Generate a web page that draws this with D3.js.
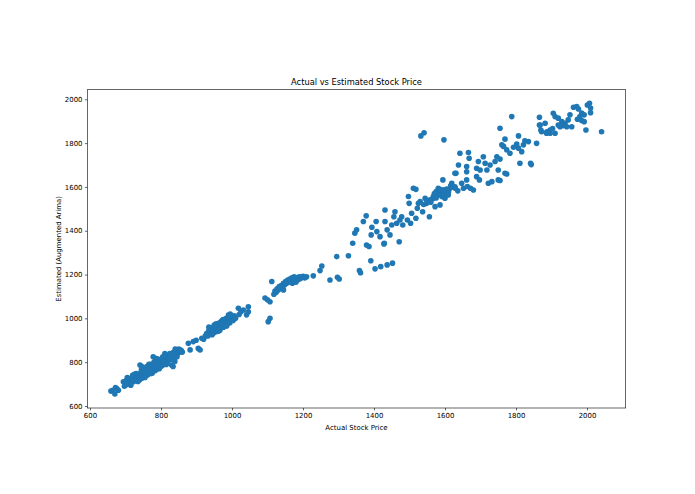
<!DOCTYPE html>
<html><head><meta charset="utf-8">
<script src="https://cdn.jsdelivr.net/npm/d3@7"></script>
<style>
html,body{margin:0;padding:0;background:#fff;}
svg{display:block;font-family:"DejaVu Sans",sans-serif;}
</style></head>
<body>
<svg id="c" width="695" height="494"></svg>
<script>
const title = "Actual vs Estimated Stock Price";
const xLabel = "Actual Stock Price";
const yLabel = "Estimated (Augmented Arima)";
const xTicks = [600, 800, 1000, 1200, 1400, 1600, 1800, 2000];
const yTicks = [600, 800, 1000, 1200, 1400, 1600, 1800, 2000];
const xLimits = [592.4, 2109];
const yLimits = [590.9, 2043.8];

// actual stock price
const actual = [
659,664,670,672,676,680,694,697,699,702,704,706,708,710,712,714,716,718,720,722,724,726,728,730,732,734,736,738,740,742,744,746,748,750,752,754,756,758,760,762,764,766,768,770,772,774,776,778,780,782,784,786,788,790,792,794,796,798,800,802,804,806,808,810,812,814,816,818,820,822,824,826,828,830,832,834,836,838,839,840,842,844,846,848,850,852,854,857,860,
741,746,778,784,811,766,845,850,855,835,730,745,760,770,790,
705,715,725,735,745,755,765,775,785,795,805,815,825,835,845,720,750,780,810,840,
877,882,891,899,905,910,915,920,925,
929,932,935,938,940,942,944,946,948,950,952,954,956,958,960,962,964,966,968,970,972,974,976,978,980,982,984,986,988,990,992,994,996,998,1000,1003,1006,1010,1018,1025,1032,1041,1046,1046,1020,
935,945,955,965,975,985,995,960,990,950,
1093,1102,1107,1107,1112,1100,
1118,1121,1124,1127,1130,1133,1136,1139,1142,1145,1148,1151,1154,1157,1160,1163,1166,1169,1172,1175,1178,1181,1184,1187,1190,1193,1196,1200,1205,1210,1135,1145,1170,1180,
1229,1248,1253,1276,1295,1297,1302,1328,1340,1359,1362,1379,1386,1391,1403,1419,1437,1452,1428,1471,
1346,1351,1370,1378,1392,1394,1406,1408,1417,1429,1431,1431,1437,1445,1450,1456,1459,1464,1473,1478,1481,1494,1497,1499,1503,1506,1511,1518,1518,1522,1525,1530,1537,1544,1548,1556,1558,1567,1572,1575,1581,1586,1594,1595,1600,1603,1609,1614,1619,1628,1629,1636,1647,1652,1661,1663,
1570,1578,1584,1590,1592,1598,1605,1610,1565,1575,1587,1616,1622,1560,1550,1540,
1597,1755,1866,1882,1887,1870,1896,1769,1807,1760,1765,1774,1783,1793,1802,1807,1816,1821,1825,1835,1811,1841,1843,1858,1642,1666,1668,1638,1661,1661,1689,1694,1708,1713,1727,1741,1746,1755,1750,1769,1774,1718,1722,1732,1750,1755,1699,1689,1697,1680,1672,1631,1628,1597,1591,1586,
1788,1905,1910,1919,1929,1938,1947,1952,1962,1971,1976,1980,1985,1992,2001,2007,2010,2010,1973,1985,1992,1997,2041,1957,1943,1933,1919,1868,1872,1886,1896,1903,1910,1924,
1532,1541,1866
];
// estimated (augmented arima)
const estimated = [
668,672,655,684,678,672,711,690,705,716,698,722,710,703,724,715,707,728,719,711,732,722,740,716,735,726,745,730,720,748,738,727,752,741,733,758,746,772,752,741,764,754,775,760,748,780,768,757,790,772,762,800,781,770,806,786,776,812,795,783,818,800,790,805,822,797,812,828,805,818,835,812,826,787,840,780,832,818,803,845,830,850,838,854,843,856,848,853,846,
787,780,825,818,840,790,857,860,855,845,748,765,780,790,815,
730,695,745,712,760,730,780,750,805,770,825,790,840,815,825,740,770,800,830,860,
886,856,894,900,863,856,909,905,920,
932,920,945,930,952,940,925,958,945,935,965,950,940,970,955,978,962,948,983,968,990,975,960,995,982,968,1000,988,975,1005,992,980,1010,998,1005,990,1012,1000,1046,1030,1038,1016,1030,1053,1018,
960,930,975,945,995,965,1020,940,1015,970,
1093,985,1000,1076,1168,1085,
1110,1125,1118,1135,1128,1145,1138,1150,1142,1160,1152,1168,1160,1175,1165,1180,1170,1185,1176,1190,1180,1172,1186,1178,1190,1182,1188,1192,1185,1190,1145,1130,1160,1165,
1194,1218,1239,1175,1282,1188,1180,1286,1343,1218,1208,1335,1328,1263,1226,1236,1244,1252,1340,1350,
1389,1404,1442,1468,1381,1416,1442,1396,1373,1343,1495,1442,1404,1381,1426,1464,1487,1434,1449,1464,1426,1449,1556,1525,1434,1480,1594,1589,1457,1503,1525,1533,1487,1548,1525,1464,1541,1556,1510,1579,1594,1563,1632,1586,1548,1579,1563,1594,1617,1662,1594,1582,1617,1594,1632,1602,
1570,1560,1575,1570,1555,1565,1590,1578,1545,1550,1588,1605,1600,1530,1535,1520,
1815,1868,1883,1891,1852,1860,1845,1818,1833,1792,1785,1769,1754,1781,1796,1777,1761,1792,1811,1807,1708,1708,1702,1799,1754,1757,1731,1700,1693,1669,1685,1716,1738,1708,1700,1716,1738,1727,1677,1662,1659,1677,1617,1624,1632,1629,1677,1647,1632,1586,1594,1662,1601,1586,1563,1518,
1921,1936,1921,1914,1898,1891,1906,1929,1964,1967,1956,1921,1937,1929,1974,1982,1960,1939,1909,1903,1898,1860,1852,1875,1875,1880,1883,1883,1852,1845,1860,1867,1845,1875,
1833,1847,1918
];

const svg = d3.select("#c");
const m = {left: 87.3, right: 625.7, top: 89.7, bottom: 408};

const x = d3.scaleLinear().domain(xLimits).range([m.left, m.right]);
const y = d3.scaleLinear().domain(yLimits).range([m.bottom, m.top]);

const pts = d3.zip(actual, estimated);

svg.append("g").selectAll("circle").data(pts).join("circle")
  .attr("cx", d => x(d[0])).attr("cy", d => y(d[1]))
  .attr("r", 2.8).attr("fill", "#1f77b4");

const fs = 6.95;
const xa = svg.append("g").attr("transform", `translate(0,${m.bottom})`)
  .call(d3.axisBottom(x).tickValues(xTicks).tickFormat(d3.format("d")).tickSize(2.4).tickPadding(2.4).tickSizeOuter(0));
const ya = svg.append("g").attr("transform", `translate(${m.left},0)`)
  .call(d3.axisLeft(y).tickValues(yTicks).tickFormat(d3.format("d")).tickSize(2.4).tickPadding(2.4).tickSizeOuter(0));
[xa, ya].forEach(a => {
  a.select(".domain").remove();
  a.selectAll("line").attr("stroke", "#000").attr("stroke-width", 0.6);
  a.selectAll("text").attr("font-family", "DejaVu Sans").attr("font-size", fs).attr("fill", "#000");
});

svg.append("rect").attr("x", m.left).attr("y", m.top)
  .attr("width", m.right - m.left).attr("height", m.bottom - m.top)
  .attr("fill", "none").attr("stroke", "#000").attr("stroke-width", 0.6);

const cx = (m.left + m.right) / 2;
svg.append("text").attr("x", cx).attr("y", 84.5).attr("text-anchor", "middle")
  .attr("font-size", 8.3).attr("fill", "#000").text(title);
svg.append("text").attr("x", cx).attr("y", 430).attr("text-anchor", "middle")
  .attr("font-size", fs).attr("fill", "#000").text(xLabel);
svg.append("text").attr("transform", `translate(60.5,${(m.top + m.bottom) / 2}) rotate(-90)`)
  .attr("text-anchor", "middle").attr("font-size", fs).attr("fill", "#000").text(yLabel);
</script>
</body></html>
